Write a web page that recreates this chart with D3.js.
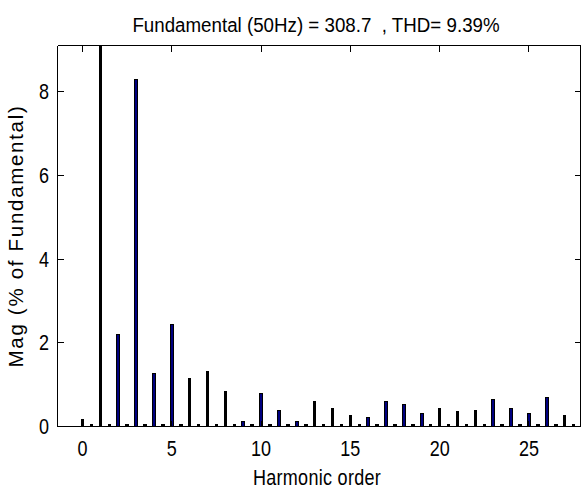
<!DOCTYPE html>
<html><head><meta charset="utf-8">
<script src="https://cdn.jsdelivr.net/npm/d3@7"></script>
<style>
body{margin:0;background:#fff}
svg{display:block}
</style>
</head><body>
<svg id="chart" width="583" height="494"></svg>
<script>
// ---------- data ----------
const titleText = "Fundamental (50Hz) = 308.7  , THD= 9.39%";
const xLabelText = "Harmonic order";
const yLabelText = "Mag (% of Fundamental)";

const harmonicOrders = [0,1,2,3,4,5,6,7,8,9,10,11,12,13,14,15,16,17,18,19,20,21,22,23,24,25,26,27];
const harmonicMag   = [0.18,100,2.20,8.31,1.28,2.46,1.15,1.32,0.84,0.14,0.80,0.40,0.12,0.62,0.44,0.27,0.22,0.62,0.53,0.32,0.44,0.36,0.40,0.65,0.44,0.32,0.70,0.27];

const interOrders = [0.5,1.5,2.5,3.5,4.5,5.5,6.5,7.5,8.5,9.5,10.5,11.5,12.5,13.5,14.5,15.5,16.5,17.5,18.5,19.5,20.5,21.5,22.5,23.5,24.5,25.5,26.5,27.5];
const interMag    = [0.07,0.07,0.07,0.07,0.07,0.07,0.07,0.07,0.07,0.07,0.07,0.07,0.07,0.07,0.07,0.07,0.07,0.07,0.07,0.07,0.07,0.07,0.07,0.07,0.07,0.07,0.07,0.07];

const xTicks = [0,5,10,15,20,25];
const yTicks = [0,2,4,6,8];
const xDomain = [-1.4, 27.888];
const yDomain = [0, 9.1];
const barWidthUnits = 0.2;

// ---------- layout ----------
const L = 57.5, R = 580.5, T = 45.5, B = 426.5;
const FONT = "'Liberation Sans', Arial, sans-serif";
const NAVY = "#000080";

const svg = d3.select("#chart");
const x = d3.scaleLinear().domain(xDomain).range([L, R]);
const y = d3.scaleLinear().domain(yDomain).range([B, T]);

svg.append("rect").attr("width", 583).attr("height", 494).attr("fill", "#fff");

svg.append("clipPath").attr("id", "plotclip")
  .append("rect").attr("x", L).attr("y", T).attr("width", R - L).attr("height", B - T);

const bars = [];
harmonicOrders.forEach((h, i) => bars.push({h, v: harmonicMag[i]}));
interOrders.forEach((h, i) => bars.push({h, v: interMag[i]}));

const bw = x(barWidthUnits) - x(0);
const gBars = svg.append("g").attr("clip-path", "url(#plotclip)");
bars.forEach(d => {
  const c = x(d.h);
  const x0 = Math.round(c - bw / 2), x1 = Math.round(c + bw / 2);
  const top = Math.max(Math.round(y(d.v)), Math.floor(T) - 1);
  const bot = Math.ceil(B);
  gBars.append("rect").attr("x", x0).attr("y", top).attr("width", x1 - x0).attr("height", bot - top)
    .attr("fill", "#000").attr("shape-rendering", "crispEdges");
  if (x1 - x0 >= 4 && bot - top >= 4) {
    gBars.append("rect").attr("x", x0 + 1).attr("y", top + 1).attr("width", x1 - x0 - 2).attr("height", bot - top - 1)
      .attr("fill", NAVY).attr("shape-rendering", "crispEdges");
  }
});

// ---------- axes ----------
const TICK = -6;
function styleAxis(g) {
  g.attr("font-family", FONT).attr("font-size", 18);
  g.selectAll("path,line").attr("stroke", "#000").attr("shape-rendering", "crispEdges");
  g.selectAll("text").attr("fill", "#000");
}
const gl = svg.append("g").attr("transform", `translate(${L},0)`)
  .call(d3.axisLeft(y).tickValues(yTicks).tickSize(TICK).tickSizeOuter(0).offset(0).tickFormat(d3.format("d")));
styleAxis(gl);
gl.selectAll("text").attr("x", null).attr("dy", null)
  .attr("transform", "translate(-8.5,7.6) scale(1,1.2)");

const gr = svg.append("g").attr("transform", `translate(${R},0)`)
  .call(d3.axisRight(y).tickValues(yTicks).tickSize(TICK).tickSizeOuter(0).offset(0).tickFormat(""));
styleAxis(gr);

const gb = svg.append("g").attr("transform", `translate(0,${B})`)
  .call(d3.axisBottom(x).tickValues(xTicks).tickSize(TICK).tickSizeOuter(0).offset(0).tickFormat(d3.format("d")));
styleAxis(gb);
gb.selectAll("text").attr("y", null).attr("dy", null)
  .attr("transform", "translate(0,29.8) scale(1,1.2)");

const gt = svg.append("g").attr("transform", `translate(0,${T})`)
  .call(d3.axisTop(x).tickValues(xTicks).tickSize(TICK).tickSizeOuter(0).offset(0).tickFormat(""));
styleAxis(gt);

// ---------- texts ----------
svg.append("text")
  .attr("transform", "translate(316,31.6) scale(1,1.12)")
  .attr("text-anchor", "middle").attr("font-family", FONT).attr("font-size", 18.75)
  .style("white-space", "pre").attr("fill", "#000").text(titleText);

svg.append("text")
  .attr("transform", "translate(317,485) scale(1,1.25)")
  .attr("text-anchor", "middle").attr("font-family", FONT).attr("font-size", 18)
  .attr("letter-spacing", 0.3)
  .attr("fill", "#000").text(xLabelText);

svg.append("text")
  .attr("transform", "translate(23.3,236) rotate(-90)")
  .attr("text-anchor", "middle").attr("font-family", FONT).attr("font-size", 20.5)
  .attr("letter-spacing", 1.7)
  .attr("fill", "#000").text(yLabelText);
</script>
</body></html>
